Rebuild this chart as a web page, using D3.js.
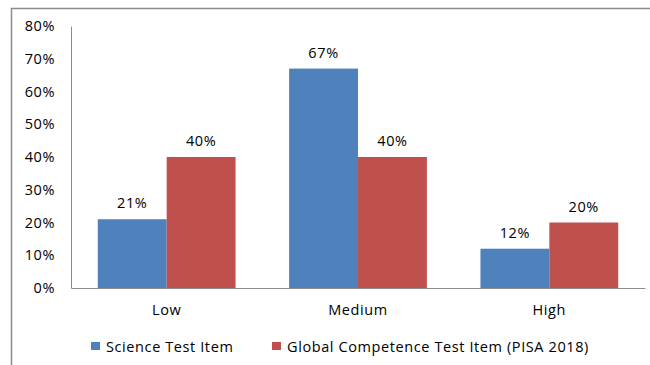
<!DOCTYPE html>
<html>
<head>
<meta charset="utf-8">
<script src="https://cdn.jsdelivr.net/npm/d3@7"></script>
<style>
  html, body { margin: 0; padding: 0; background: #fff; }
  svg { display: block; font-family: "Open Sans", Lato, sans-serif; }
</style>
</head>
<body>
<svg id="chart" width="650" height="365"></svg>
<script>
// Chart data
const categories = ["Low", "Medium", "High"];
const seriesNames = ["Science Test Item", "Global Competence Test Item (PISA 2018)"];
const scienceValues = [0.21, 0.67, 0.12];
const globalValues = [0.40, 0.40, 0.20];
const yTicks = [0, 0.1, 0.2, 0.3, 0.4, 0.5, 0.6, 0.7, 0.8];
const colors = ["#4F81BD", "#C0504D"];

const series = [scienceValues, globalValues];
const FONT = "'Open Sans', Lato, sans-serif";
const FS = 14.5;
const LS = 0.6;

const svg = d3.select("#chart");

// Outer chart frame (extends past the right and bottom edges)
svg.append("rect")
  .attr("x", 11.5).attr("y", 8.5)
  .attr("width", 700).attr("height", 400)
  .attr("fill", "none")
  .attr("stroke", "#8c8c8c")
  .attr("stroke-width", 1.5);

const plot = { left: 71, right: 645, top: 26, bottom: 288 };

const x0 = d3.scaleBand()
  .domain(categories)
  .range([plot.left, plot.right])
  .paddingInner(0.28)
  .paddingOuter(0.14);

const x1 = d3.scaleBand()
  .domain(d3.range(series.length))
  .range([0, x0.bandwidth()]);

const y = d3.scaleLinear()
  .domain([0, 0.8])
  .range([plot.bottom, plot.top]);

const fmt = d3.format(".0%");

// Y axis: labels only, with a plain vertical line
const yAxis = svg.append("g")
  .attr("transform", `translate(${plot.left},0)`)
  .call(d3.axisLeft(y).tickValues(yTicks).tickFormat(fmt).tickSize(0).tickPadding(16));
yAxis.select(".domain").attr("stroke", "#8c8c8c");
yAxis.selectAll("text")
  .attr("font-size", FS)
  .attr("fill", "#000")
  .attr("font-family", FONT)
  .attr("letter-spacing", LS);

// Bars
const groups = svg.append("g")
  .selectAll("g")
  .data(categories)
  .join("g")
  .attr("transform", d => `translate(${x0(d)},0)`);

groups.selectAll("rect")
  .data((d, i) => series.map((s, k) => ({ k, v: s[i] })))
  .join("rect")
  .attr("x", d => x1(d.k))
  .attr("y", d => y(d.v))
  .attr("width", x1.bandwidth())
  .attr("height", d => y(0) - y(d.v))
  .attr("fill", d => colors[d.k]);

// Value labels
groups.selectAll("text.val")
  .data((d, i) => series.map((s, k) => ({ k, v: s[i] })))
  .join("text")
  .attr("class", "val")
  .attr("x", d => x1(d.k) + x1.bandwidth() / 2)
  .attr("y", d => y(d.v) - 11)
  .attr("text-anchor", "middle")
  .attr("font-size", FS)
  .attr("letter-spacing", LS)
  .attr("fill", "#000")
  .text(d => fmt(d.v));

// X axis baseline and category labels
const xAxis = svg.append("g")
  .attr("transform", `translate(0,${plot.bottom})`)
  .call(d3.axisBottom(x0).tickSize(0).tickPadding(17));
xAxis.select(".domain").attr("stroke", "#8c8c8c");
xAxis.selectAll("text")
  .attr("font-size", FS)
  .attr("fill", "#000")
  .attr("font-family", FONT)
  .attr("letter-spacing", LS);

// Legend
const legendPos = [91, 272];
const legend = svg.append("g")
  .selectAll("g")
  .data(seriesNames)
  .join("g")
  .attr("transform", (d, i) => `translate(${legendPos[i]},342)`);
legend.append("rect")
  .attr("width", 9).attr("height", 8)
  .attr("fill", (d, i) => colors[i]);
legend.append("text")
  .attr("x", 15).attr("y", 9.5)
  .attr("font-size", FS)
  .attr("letter-spacing", LS)
  .attr("fill", "#000")
  .text(d => d);
</script>
</body>
</html>
